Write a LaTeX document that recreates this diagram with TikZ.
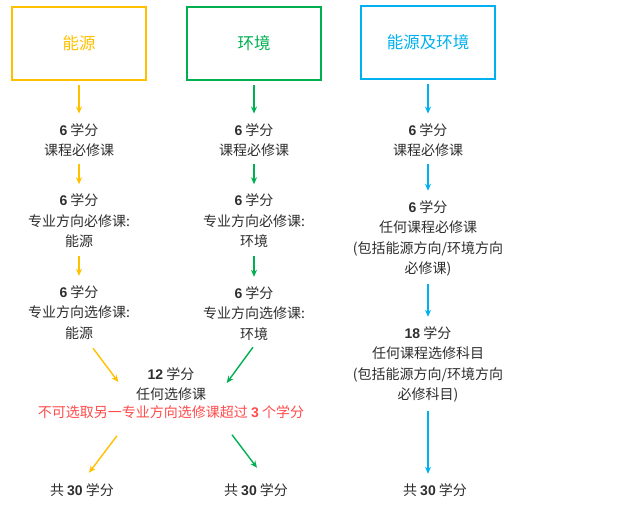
\documentclass[tikz,border=0pt]{standalone}
\usepackage{fontspec}
\setmainfont{Noto Sans CJK SC}
\newfontfamily\numfont{Liberation Sans}
\usetikzlibrary{arrows.meta}

\definecolor{ylw}{HTML}{FFC000}
\definecolor{grn}{HTML}{00B050}
\definecolor{blu}{HTML}{00B0F0}
\definecolor{warnred}{HTML}{FF4B4B}
\definecolor{txt}{HTML}{2E2E2E}
\newcommand{\pts}[1]{{\numfont\bfseries #1}}

\begin{document}
\begin{tikzpicture}[>={Stealth[length=7pt,width=6pt]}, x=1pt, y=-1pt, line width=1.4pt]
\tikzstyle{every node}=[text=txt, align=center, inner sep=3pt, font=\fontsize{14}{20.5}\selectfont]
\tikzstyle{title}=[draw, line width=1.6pt, minimum width=134pt, minimum height=73pt, font=\fontsize{16.5}{20}\selectfont]
\tikzstyle{nextstep}=[shorten <=4pt, shorten >=6pt]
\useasboundingbox (0,0) rectangle (624,510);

% heads
\node[title, draw=ylw, text=ylw] (en) at (79,43.5) {能源};
\node[title, draw=grn, text=grn] (ev) at (254,43.5) {环境};
\node[title, draw=blu, text=blu] (bo) at (428,42.5) {能源及环境};

% energy
\node (en1) at (79,140) {\pts{6} 学分\\课程必修课};
\node (en2) at (79,221) {\pts{6} 学分\\专业方向必修课:\\能源};
\node (en3) at (79,312.5) {\pts{6} 学分\\专业方向选修课:\\能源};

% environment
\node (ev1) at (254,140) {\pts{6} 学分\\课程必修课};
\node (ev2) at (254,221) {\pts{6} 学分\\专业方向必修课:\\环境};
\node (ev3) at (254,313.5) {\pts{6} 学分\\专业方向选修课:\\环境};

% shared part
\node (any) at (171,384) {\pts{12} 学分\\任何选修课};
\node[text=warnred] (warn) at (171,412.5) {不可选取另一专业方向选修课超过 \pts{3} 个学分};
\node (enT) at (82,490) {共 \pts{30} 学分};
\node (evT) at (256,490) {共 \pts{30} 学分};

% both
\node (bo1) at (428,140) {\pts{6} 学分\\课程必修课};
\node (bo2) at (428,238.5) {\pts{6} 学分\\任何课程必修课\\(包括能源方向/环境方向\\必修课)};
\node (bo3) at (428,364.5) {\pts{18} 学分\\任何课程选修科目\\(包括能源方向/环境方向\\必修科目)};
\node (boT) at (435,490) {共 \pts{30} 学分};

\path[->, color=ylw] (en) edge[nextstep] (en1) (en1) edge[nextstep] (en2) (en2) edge[nextstep] (en3);
\path[->, color=grn] (ev) edge[nextstep] (ev1) (ev1) edge[nextstep] (ev2) (ev2) edge[nextstep] (ev3);
\path[->, color=blu] (bo) edge[nextstep] (bo1) (bo1) edge[nextstep] (bo2) (bo2) edge[nextstep] (bo3);
\draw[->, blu] ([yshift=-5pt]bo3.south) -- ([xshift=-7pt,yshift=6pt]boT.north);

\draw[->, ylw] ([xshift=14pt,yshift=-5pt]en3.south) -- ([xshift=-14pt,yshift=2pt]any.west);
\draw[->, grn] ([xshift=-1pt,yshift=-3pt]ev3.south) -- ([xshift=17pt,yshift=1pt]any.east);
\draw[->, ylw] ([xshift=-54pt,yshift=-13pt]warn.south) -- ([xshift=7pt,yshift=7pt]enT.north);
\draw[->, grn] ([xshift=61pt,yshift=-12pt]warn.south) -- ([xshift=1pt,yshift=12pt]evT.north);
\end{tikzpicture}
\end{document}
